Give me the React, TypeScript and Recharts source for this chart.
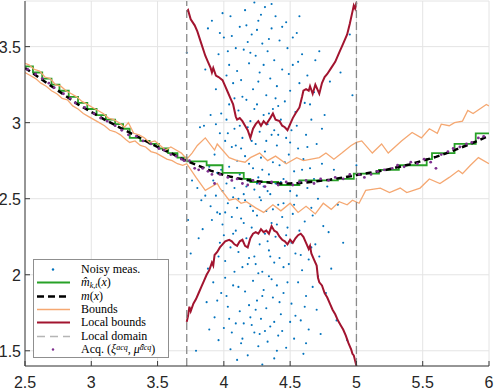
import React from "react";
import { ComposedChart, Line, Scatter, XAxis, YAxis, CartesianGrid, ReferenceLine, Legend } from "recharts";

const X_TICKS = [2.5, 3, 3.5, 4, 4.5, 5, 5.5, 6];
const Y_TICKS = [1.5, 2, 2.5, 3, 3.5];
const LOCAL_DOMAIN = [3.72, 5.0];

// true mean m(x)
const M_X = [2.5, 2.6, 2.7, 2.8, 2.9, 3.0, 3.1, 3.2, 3.3, 3.4, 3.5, 3.6, 3.7, 3.8, 3.9, 4.0, 4.1, 4.2, 4.3, 4.4, 4.5, 4.6, 4.7, 4.8, 4.9, 5.0, 5.1, 5.2, 5.3, 5.4, 5.5, 5.6, 5.7, 5.8, 5.9, 6.0];
const M_Y = [3.36, 3.3, 3.24, 3.18, 3.12, 3.07, 3.02, 2.975, 2.93, 2.885, 2.84, 2.8, 2.755, 2.72, 2.685, 2.655, 2.635, 2.62, 2.61, 2.6, 2.6, 2.605, 2.615, 2.625, 2.64, 2.655, 2.67, 2.685, 2.705, 2.725, 2.75, 2.775, 2.805, 2.84, 2.875, 2.915];

// estimate m_hat (piecewise constant)
const MHAT: [number, number][] = [
  [2.5, 3.37], [2.56, 3.33], [2.63, 3.29], [2.7, 3.25], [2.76, 3.21], [2.83, 3.17], [2.9, 3.13], [2.97, 3.09],
  [3.04, 3.05], [3.11, 3.02], [3.18, 2.99], [3.24, 2.96], [3.29, 2.9], [3.37, 2.88], [3.44, 2.86], [3.51, 2.83],
  [3.58, 2.8], [3.65, 2.77], [3.72, 2.745], [3.87, 2.72], [3.99, 2.67], [4.15, 2.63], [4.2, 2.61], [4.41, 2.59],
  [4.57, 2.62], [4.86, 2.63], [4.98, 2.665], [5.17, 2.69], [5.32, 2.72], [5.53, 2.76], [5.57, 2.8], [5.74, 2.86],
  [5.9, 2.93], [6.0, 2.93],
];

const BOUND_UP: [number, number][] = [
  [2.5, 3.39], [2.53, 3.38], [2.57, 3.35], [2.61, 3.34], [2.65, 3.3], [2.69, 3.29], [2.73, 3.25], [2.77, 3.24],
  [2.81, 3.21], [2.85, 3.19], [2.89, 3.17], [2.93, 3.14], [2.97, 3.12], [3.01, 3.1], [3.05, 3.08], [3.09, 3.06],
  [3.13, 3.03], [3.17, 3.02], [3.21, 3.0], [3.25, 2.97], [3.28, 3.0], [3.32, 2.93], [3.36, 2.92], [3.4, 2.9],
  [3.44, 2.87], [3.48, 2.88], [3.52, 2.85], [3.56, 2.82], [3.6, 2.84], [3.64, 2.82], [3.68, 2.8], [3.72, 2.76],
  [3.76, 2.8], [3.8, 2.85], [3.86, 2.9], [3.93, 2.82], [3.95, 2.86], [4.04, 2.77], [4.1, 2.75], [4.16, 2.74],
  [4.2, 2.77], [4.27, 2.8], [4.33, 2.75], [4.39, 2.78], [4.47, 2.73], [4.55, 2.77], [4.6, 2.75], [4.66, 2.76],
  [4.72, 2.77], [4.77, 2.8], [4.83, 2.76], [4.89, 2.8], [4.96, 2.85], [5.0, 2.87], [5.04, 2.88], [5.12, 2.8],
  [5.19, 2.86], [5.24, 2.8], [5.34, 2.88], [5.42, 2.935], [5.49, 2.9], [5.55, 2.96], [5.61, 2.93], [5.64, 2.99],
  [5.7, 2.98], [5.74, 3.0], [5.8, 3.01], [5.84, 3.08], [5.88, 3.06], [5.98, 3.12], [6.0, 3.11],
];

const BOUND_LO: [number, number][] = [
  [2.5, 3.33], [2.54, 3.31], [2.58, 3.29], [2.62, 3.26], [2.66, 3.24], [2.7, 3.21], [2.74, 3.19], [2.78, 3.16],
  [2.82, 3.15], [2.86, 3.11], [2.9, 3.09], [2.94, 3.06], [2.98, 3.04], [3.02, 3.02], [3.06, 3.0], [3.1, 2.98],
  [3.14, 2.95], [3.18, 2.94], [3.22, 2.92], [3.26, 2.89], [3.29, 2.87], [3.33, 2.88], [3.37, 2.85], [3.41, 2.84],
  [3.45, 2.81], [3.49, 2.8], [3.53, 2.78], [3.57, 2.76], [3.61, 2.75], [3.65, 2.73], [3.69, 2.72], [3.72, 2.73],
  [3.79, 2.64], [3.86, 2.555], [3.95, 2.6], [3.97, 2.57], [4.04, 2.49], [4.09, 2.5], [4.13, 2.47], [4.17, 2.48],
  [4.24, 2.44], [4.3, 2.41], [4.37, 2.46], [4.43, 2.42], [4.5, 2.47], [4.56, 2.41], [4.62, 2.45], [4.69, 2.4],
  [4.75, 2.47], [4.81, 2.43], [4.87, 2.48], [4.93, 2.46], [4.97, 2.49], [5.02, 2.47], [5.07, 2.555], [5.18, 2.57],
  [5.25, 2.54], [5.33, 2.57], [5.38, 2.54], [5.48, 2.57], [5.55, 2.63], [5.63, 2.6], [5.7, 2.64], [5.77, 2.685],
  [5.8, 2.665], [5.86, 2.72], [5.92, 2.77], [6.0, 2.73],
];

const LOCAL_UP: [number, number][] = [
  [3.72, 3.73], [3.73, 3.74], [3.75, 3.68], [3.78, 3.64], [3.8, 3.6], [3.83, 3.52], [3.86, 3.44], [3.88, 3.4],
  [3.9, 3.36], [3.91, 3.33], [3.92, 3.36], [3.94, 3.31], [3.96, 3.3], [3.99, 3.28], [4.01, 3.24], [4.03, 3.2],
  [4.05, 3.16], [4.07, 3.12], [4.09, 3.04], [4.1, 3.02], [4.12, 3.03], [4.14, 3.01], [4.16, 2.98], [4.18, 2.95],
  [4.2, 2.9], [4.22, 2.96], [4.24, 2.99], [4.26, 3.01], [4.28, 2.98], [4.3, 3.01], [4.32, 2.99], [4.35, 3.03],
  [4.37, 3.06], [4.39, 3.02], [4.42, 3.01], [4.44, 2.98], [4.46, 2.97], [4.48, 2.95], [4.5, 2.99], [4.52, 3.03],
  [4.54, 3.06], [4.57, 3.1], [4.59, 3.17], [4.6, 3.21], [4.62, 3.22], [4.64, 3.21], [4.65, 3.24], [4.67, 3.19],
  [4.69, 3.25], [4.7, 3.23], [4.72, 3.19], [4.74, 3.26], [4.76, 3.3], [4.78, 3.32], [4.81, 3.36], [4.84, 3.4],
  [4.87, 3.46], [4.9, 3.52], [4.93, 3.58], [4.95, 3.65], [4.97, 3.73], [4.98, 3.77], [4.99, 3.75], [5.0, 3.79],
];

const LOCAL_LO: [number, number][] = [
  [3.72, 1.69], [3.73, 1.73], [3.74, 1.79], [3.75, 1.76], [3.77, 1.81], [3.79, 1.84], [3.81, 1.88], [3.83, 1.92],
  [3.85, 1.96], [3.87, 2.0], [3.89, 2.03], [3.91, 2.08], [3.92, 2.06], [3.93, 2.13], [3.95, 2.15], [3.97, 2.18],
  [3.99, 2.2], [4.01, 2.22], [4.04, 2.23], [4.06, 2.22], [4.08, 2.2], [4.1, 2.19], [4.12, 2.22], [4.14, 2.23],
  [4.16, 2.19], [4.18, 2.18], [4.2, 2.24], [4.22, 2.27], [4.24, 2.28], [4.26, 2.27], [4.28, 2.3], [4.3, 2.28],
  [4.32, 2.29], [4.34, 2.27], [4.36, 2.32], [4.38, 2.29], [4.4, 2.28], [4.42, 2.25], [4.44, 2.23], [4.46, 2.22],
  [4.48, 2.2], [4.5, 2.23], [4.52, 2.21], [4.54, 2.24], [4.56, 2.26], [4.58, 2.27], [4.6, 2.25], [4.62, 2.21],
  [4.64, 2.17], [4.65, 2.19], [4.66, 2.14], [4.68, 2.1], [4.7, 2.06], [4.71, 1.98], [4.72, 1.95], [4.74, 1.93],
  [4.76, 1.88], [4.78, 1.85], [4.8, 1.81], [4.82, 1.77], [4.84, 1.74], [4.86, 1.7], [4.88, 1.67], [4.9, 1.64],
  [4.92, 1.6], [4.94, 1.55], [4.96, 1.51], [4.97, 1.48], [4.98, 1.47], [5.0, 1.4],
];

const NOISY: [number, number][] = [
  [3.72, 3.46], [3.73, 2.36], [3.75, 2.14], [3.79, 1.5], [3.8, 2.57], [3.82, 2.97], [3.84, 2.3], [3.86, 3.35],
  [3.87, 1.82], [3.88, 2.04], [3.89, 2.71], [3.85, 2.98], [3.9, 3.05], [3.83, 2.49], [3.88, 3.62], [3.76, 2.62],
  [3.81, 2.24], [3.89, 1.64], [3.86, 2.52], [3.9, 2.45],
  [3.91, 3.67], [3.92, 1.95], [3.93, 2.79], [3.93, 1.72], [3.94, 3.22], [3.95, 2.41], [3.95, 2.67], [3.96, 1.57],
  [3.96, 3.45], [3.97, 2.21], [3.97, 2.93], [3.98, 1.88], [3.98, 3.06], [3.99, 2.55], [3.99, 2.33], [4.0, 3.56],
  [4.0, 1.65], [4.01, 2.88], [4.01, 2.09], [4.02, 2.6], [4.02, 3.31], [4.03, 1.79], [4.03, 2.47], [4.04, 3.12],
  [4.04, 2.71], [4.05, 1.51], [4.05, 2.18], [4.05, 3.7], [4.06, 2.84], [4.06, 2.38], [4.07, 1.93], [4.07, 3.26],
  [4.08, 2.57], [4.08, 2.02], [4.08, 2.96], [4.09, 1.68], [4.09, 3.49], [4.1, 2.44], [4.1, 2.75], [4.1, 1.44],
  [3.92, 2.62], [3.94, 2.99], [3.96, 2.12], [3.98, 2.69], [4.0, 2.26], [4.02, 1.86], [4.04, 3.38], [4.06, 1.62],
  [4.08, 3.16], [4.09, 2.29], [3.91, 2.36], [3.97, 3.59], [4.03, 2.93], [4.07, 2.51], [4.01, 1.98],
  [4.11, 3.08], [4.11, 2.15], [4.12, 3.63], [4.12, 1.76], [4.12, 2.66], [4.13, 2.37], [4.13, 3.28], [4.14, 1.58],
  [4.14, 2.9], [4.14, 2.05], [4.15, 3.48], [4.15, 2.53], [4.16, 1.89], [4.16, 2.78], [4.16, 3.74], [4.17, 2.24],
  [4.17, 3.15], [4.18, 1.47], [4.18, 2.62], [4.18, 2.97], [4.19, 2.11], [4.19, 3.39], [4.2, 1.72], [4.2, 2.45],
  [4.2, 3.01], [4.21, 3.58], [4.21, 2.31], [4.22, 1.96], [4.22, 2.7], [4.22, 3.22], [4.23, 1.62], [4.23, 2.56],
  [4.23, 3.79], [4.24, 2.07], [4.24, 2.86], [4.24, 3.44], [4.25, 1.83], [4.25, 2.39], [4.25, 3.12], [4.26, 2.64],
  [4.26, 1.53], [4.26, 3.67], [4.27, 2.2], [4.27, 2.94], [4.27, 3.33], [4.28, 1.71], [4.28, 2.49], [4.28, 2.77],
  [4.29, 3.52], [4.29, 2.02], [4.29, 1.41], [4.3, 2.58], [4.3, 3.05], [4.3, 1.9], [4.13, 2.83], [4.15, 1.68],
  [4.17, 2.58], [4.19, 1.8], [4.21, 2.88], [4.23, 2.12], [4.25, 3.61], [4.27, 1.61], [4.29, 2.69], [4.11, 2.5],
  [4.18, 3.53],
  [4.31, 3.76], [4.31, 2.27], [4.31, 2.81], [4.32, 1.78], [4.32, 3.18], [4.32, 2.42], [4.33, 1.56], [4.33, 2.99],
  [4.33, 3.47], [4.34, 2.16], [4.34, 2.66], [4.34, 1.99], [4.35, 3.29], [4.35, 2.53], [4.35, 1.66], [4.36, 3.62],
  [4.36, 2.34], [4.36, 2.92], [4.37, 1.85], [4.37, 2.74], [4.37, 3.09], [4.38, 2.08], [4.38, 3.41], [4.38, 1.45],
  [4.39, 2.6], [4.39, 2.25], [4.39, 3.7], [4.4, 1.93], [4.4, 2.85], [4.4, 3.24], [4.41, 2.46], [4.41, 1.6],
  [4.42, 3.54], [4.42, 2.72], [4.42, 2.11], [4.43, 1.74], [4.43, 3.02], [4.44, 2.38], [4.44, 3.35], [4.45, 1.88],
  [4.45, 2.63], [4.46, 3.14], [4.46, 2.19], [4.47, 1.52], [4.47, 2.9], [4.48, 3.49], [4.48, 2.31], [4.49, 2.07],
  [4.49, 2.79], [4.5, 1.69], [4.5, 3.21], [4.5, 2.55], [4.33, 2.22], [4.36, 1.97], [4.41, 3.11], [4.45, 2.47],
  [4.47, 3.66], [4.44, 1.63], [4.38, 2.95], [4.34, 3.55],
  [4.51, 2.95], [4.51, 1.81], [4.52, 3.38], [4.52, 2.4], [4.53, 2.68], [4.53, 1.58], [4.54, 3.07], [4.54, 2.14],
  [4.55, 3.59], [4.55, 2.52], [4.56, 1.95], [4.56, 2.83], [4.57, 3.26], [4.57, 2.29], [4.58, 1.7], [4.58, 2.61],
  [4.59, 3.45], [4.59, 2.03], [4.6, 2.76], [4.6, 1.48], [4.61, 3.13], [4.61, 2.35], [4.62, 1.86], [4.62, 2.92],
  [4.63, 2.57], [4.63, 3.31], [4.64, 2.1], [4.64, 1.64], [4.65, 2.7], [4.66, 2.44], [4.66, 3.02], [4.67, 1.92],
  [4.68, 2.63], [4.68, 3.2], [4.69, 2.2], [4.7, 1.77], [4.7, 2.86], [4.57, 3.7], [4.62, 1.55], [4.66, 2.18],
  [4.71, 2.5], [4.72, 3.47], [4.72, 2.12], [4.73, 1.61], [4.74, 2.73], [4.75, 2.32], [4.76, 3.05], [4.77, 1.88],
  [4.78, 2.58], [4.8, 3.27], [4.81, 2.04], [4.83, 2.69], [4.85, 1.7], [4.86, 2.46], [4.88, 3.33], [4.9, 2.21],
  [4.93, 1.57], [4.95, 3.58], [4.97, 3.18], [5.0, 2.72],
  [3.94, 2.52], [3.95, 1.83], [3.99, 3.72], [4.01, 2.41], [4.02, 3.02], [4.04, 1.71], [4.06, 3.57], [4.07, 2.27],
  [4.09, 2.85], [4.1, 3.34], [4.11, 1.92], [4.12, 2.98], [4.13, 1.55], [4.14, 3.17], [4.15, 2.34], [4.16, 2.49],
  [4.17, 3.64], [4.18, 2.07], [4.19, 2.73], [4.2, 3.46], [4.21, 1.67], [4.22, 2.42], [4.23, 3.09], [4.24, 1.77],
  [4.25, 2.6], [4.26, 3.27], [4.27, 2.51], [4.28, 3.71], [4.29, 1.86], [4.3, 3.38], [4.31, 1.63], [4.32, 2.88],
  [4.33, 2.55], [4.34, 3.06], [4.35, 2.12], [4.36, 3.78], [4.37, 2.43], [4.38, 1.69], [4.39, 3.16], [4.4, 2.33],
  [4.41, 2.92], [4.42, 1.82], [4.43, 2.61], [4.44, 3.63], [4.45, 2.05], [4.46, 2.74], [4.47, 2.26], [4.48, 1.95],
  [4.49, 3.32], [4.5, 2.87], [4.51, 2.21], [4.52, 3.56], [4.53, 2.46], [4.54, 1.73], [4.55, 2.98], [4.56, 3.4],
  [4.58, 2.13], [4.59, 2.69], [4.61, 1.79], [4.63, 2.84], [4.65, 3.12], [4.67, 2.39], [4.69, 3.41], [4.71, 1.99],
  [4.74, 2.96], [4.79, 2.28], [3.97, 2.4], [4.03, 3.47], [4.26, 2.01], [4.4, 1.5],
];

const ACQ: [number, number][] = [
  [2.52, 3.35], [2.58, 3.32], [2.63, 3.29], [2.68, 3.26], [2.72, 3.23], [2.79, 3.19], [2.84, 3.16], [2.88, 3.13],
  [2.95, 3.1], [3.02, 3.06], [3.07, 3.03], [3.12, 3.01], [3.18, 2.98], [3.23, 2.95], [3.28, 2.92], [3.34, 2.91],
  [3.39, 2.88], [3.45, 2.86], [3.51, 2.83], [3.55, 2.82], [3.6, 2.79], [3.64, 2.78], [3.68, 2.76], [3.7, 2.75],
  [3.74, 2.75], [3.78, 2.7], [3.81, 2.69], [3.84, 2.7], [3.88, 2.68], [3.91, 2.66], [3.93, 2.6], [3.97, 2.66],
  [4.03, 2.64], [4.06, 2.62], [4.1, 2.63], [4.14, 2.6], [4.18, 2.59], [4.22, 2.62], [4.27, 2.6], [4.31, 2.58],
  [4.36, 2.61], [4.41, 2.59], [4.47, 2.61], [4.52, 2.59], [4.57, 2.61], [4.62, 2.62], [4.68, 2.6], [4.73, 2.63],
  [4.79, 2.62], [4.84, 2.64], [4.9, 2.63], [4.95, 2.66], [5.02, 2.66], [5.06, 2.64], [5.11, 2.66], [5.16, 2.68],
  [5.21, 2.69], [5.27, 2.7], [5.31, 2.72], [5.36, 2.71], [5.41, 2.74], [5.46, 2.73], [5.51, 2.76], [5.56, 2.74],
  [5.6, 2.7], [5.64, 2.79], [5.69, 2.81], [5.73, 2.83], [5.78, 2.84], [5.83, 2.86], [5.87, 2.87], [5.92, 2.9],
  [5.96, 2.91],
];

const C_BLUE = "#0072BD";
const C_GREEN = "#27a127";
const C_ORANGE = "#F5A872";
const C_RED = "#A2142F";
const C_PURPLE = "#7E2F8E";
const C_AXIS = "#3a3a3a";

const pts = (arr: [number, number][]) => arr.map(([x, y]) => ({ x, y }));
const mData = M_X.map((x, i) => ({ x, y: M_Y[i] }));

const fmt = (v: number) => String(v);
const TICK_FONT = { fontFamily: "Liberation Sans, Arial, sans-serif", fontSize: 16, fill: "#262626" };

// MATLAB style ticks pointing into the box
const LeftTick = ({ x, y, payload }: any) => (
  <g>
    <line x1={x} x2={x + 5} y1={y} y2={y} stroke={C_AXIS} />
    <text x={x - 4} y={y + 6} textAnchor="end" {...TICK_FONT}>{fmt(payload.value)}</text>
  </g>
);
const BottomTick = ({ x, y, payload }: any) => (
  <g>
    <line x1={x} x2={x} y1={y} y2={y - 5} stroke={C_AXIS} />
    <text x={x} y={y + 22} textAnchor="middle" {...TICK_FONT}>{fmt(payload.value)}</text>
  </g>
);
const TopTick = ({ x, y }: any) => <line x1={x} x2={x} y1={y} y2={y + 5} stroke={C_AXIS} />;
const RightTick = ({ x, y }: any) => <line x1={x} x2={x - 5} y1={y} y2={y} stroke={C_AXIS} />;

const dot = (color: string, r: number) => (p: any) => <circle cx={p.cx} cy={p.cy} r={r} fill={color} />;

const sub = { fontSize: 8, position: "relative", top: 2, fontStyle: "italic", lineHeight: "8px" } as const;
const sup = { fontSize: 8, position: "relative", top: -3, fontStyle: "italic", lineHeight: "8px" } as const;

const legendRows: { marker: React.ReactNode; label: React.ReactNode }[] = [
  { marker: <circle cx={16} cy={6.5} r={1.2} fill={C_BLUE} />, label: "Noisy meas." },
  {
    marker: <line x1={0} x2={33} y1={6.5} y2={6.5} stroke={C_GREEN} strokeWidth={2} />,
    label: (<><i>m&#770;</i><span style={sub}>k,t</span>(<i>x</i>)</>),
  },
  {
    marker: <line x1={0} x2={33} y1={6.5} y2={6.5} stroke="#000" strokeWidth={2.5} strokeDasharray="7 4" />,
    label: (<><i>m</i>(<i>x</i>)</>),
  },
  { marker: <line x1={0} x2={33} y1={6.5} y2={6.5} stroke={C_ORANGE} strokeWidth={1.5} />, label: "Bounds" },
  { marker: <line x1={0} x2={33} y1={6.5} y2={6.5} stroke={C_RED} strokeWidth={2} />, label: "Local bounds" },
  {
    marker: <line x1={0} x2={33} y1={6.5} y2={6.5} stroke="#b5b5b5" strokeWidth={1.5} strokeDasharray="8 5" />,
    label: "Local domain",
  },
  {
    marker: <circle cx={16} cy={6.5} r={1.2} fill={C_PURPLE} />,
    label: (<>Acq. (<i>&xi;</i><span style={sup}>acq</span>, <i>&mu;&#770;</i><span style={sup}>acq</span>)</>),
  },
];

const LegendBox = () => (
  <div
    style={{
      boxSizing: "border-box",
      width: 136,
      height: 99,
      border: "1px solid #8f8f8f",
      background: "#fff",
      padding: "3px 0 0 3px",
      fontFamily: "Liberation Serif, Times New Roman, serif",
      fontSize: 12,
      color: "#000",
    }}
  >
    {legendRows.map((row, i) => (
      <div key={i} style={{ display: "flex", alignItems: "center", height: 13.3, lineHeight: "13px", whiteSpace: "nowrap" }}>
        <svg width={44} height={13} style={{ flex: "none" }}>{row.marker}</svg>
        <span>{row.label}</span>
      </div>
    ))}
  </div>
);

export default function App() {
  return (
    <div style={{ position: "absolute", left: 0, top: 0, width: 499, height: 390, background: "#fff" }}>
      <ComposedChart width={499} height={390} margin={{ top: 1, right: 10, left: 0, bottom: 0 }}>
        <CartesianGrid stroke="#e4e4e4" />
        <XAxis
          type="number" dataKey="x" domain={[2.5, 6]} ticks={X_TICKS} allowDataOverflow interval={0}
          height={24} tickSize={0} tickMargin={0} tickLine={false} stroke={C_AXIS} tick={<BottomTick />}
        />
        <XAxis
          xAxisId="top" orientation="top" type="number" domain={[2.5, 6]} ticks={X_TICKS} allowDataOverflow interval={0}
          height={0} tickSize={0} tickMargin={0} tickLine={false} stroke={C_AXIS} tick={<TopTick />}
        />
        <YAxis
          type="number" dataKey="y" domain={[1.4, 3.8]} ticks={Y_TICKS} allowDataOverflow interval={0}
          width={25} tickSize={0} tickMargin={0} tickLine={false} stroke={C_AXIS} tick={<LeftTick />}
        />
        <YAxis
          yAxisId="right" orientation="right" type="number" domain={[1.4, 3.8]} ticks={Y_TICKS} allowDataOverflow interval={0}
          width={0} tickSize={0} tickMargin={0} tickLine={false} stroke={C_AXIS} tick={<RightTick />}
        />

        <Scatter data={pts(NOISY)} fill={C_BLUE} shape={dot(C_BLUE, 1.05)} isAnimationActive={false} zIndex={350} />
        <Line data={pts(MHAT)} dataKey="y" type="stepAfter" stroke={C_GREEN} strokeWidth={1.8} dot={false} isAnimationActive={false} />
        <Line data={mData} dataKey="y" type="linear" stroke="#000" strokeWidth={2.5} strokeDasharray="6 4" dot={false} isAnimationActive={false} />
        <Line data={pts(BOUND_UP)} dataKey="y" stroke={C_ORANGE} strokeWidth={1.3} dot={false} isAnimationActive={false} />
        <Line data={pts(BOUND_LO)} dataKey="y" stroke={C_ORANGE} strokeWidth={1.3} dot={false} isAnimationActive={false} />
        <Line data={pts(LOCAL_UP)} dataKey="y" stroke={C_RED} strokeWidth={2} dot={false} isAnimationActive={false} />
        <Line data={pts(LOCAL_LO)} dataKey="y" stroke={C_RED} strokeWidth={2} dot={false} isAnimationActive={false} />
        {LOCAL_DOMAIN.map((x) => (
          <ReferenceLine key={x} x={x} stroke="#8a8a8a" strokeWidth={1.3} strokeDasharray="8 4" />
        ))}
        <Scatter data={pts(ACQ)} fill={C_PURPLE} shape={dot(C_PURPLE, 1.4)} isAnimationActive={false} />

        <Legend
          layout="horizontal" verticalAlign="middle" align="center"
          wrapperStyle={{ left: 33, top: 259, width: 136, height: 99 }}
          content={() => <LegendBox />}
        />
      </ComposedChart>
    </div>
  );
}
